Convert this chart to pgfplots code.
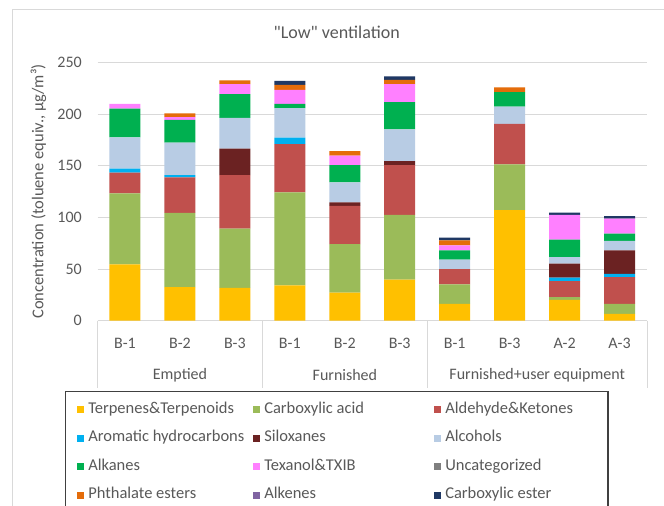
\documentclass[border=0pt]{standalone}
\usepackage{pgfplots}
\usepackage{pgfplotstable}
\pgfplotsset{compat=1.18}
\usepackage{fontspec}
\setmainfont{Carlito}
\newfontfamily\plainfont{Carlito}
\definecolor{cTerp}{HTML}{FFC000}
\definecolor{cCarb}{HTML}{9BBB59}
\definecolor{cAld}{HTML}{C0504D}
\definecolor{cArom}{HTML}{00B0F0}
\definecolor{cSil}{HTML}{6B2222}
\definecolor{cAlc}{HTML}{B8CCE4}
\definecolor{cAlk}{HTML}{00B050}
\definecolor{cTex}{HTML}{FF80FF}
\definecolor{cUnc}{HTML}{7F7F7F}
\definecolor{cPht}{HTML}{E46C0A}
\definecolor{cAlke}{HTML}{8064A2}
\definecolor{cEst}{HTML}{1F3864}
\definecolor{txt}{HTML}{595959}
\definecolor{gridc}{HTML}{D9D9D9}
\definecolor{legc}{HTML}{404040}

\pgfplotstableread{
idx terp carb ald arom sil alc alk tex unc pht alke est
0 54.4 68.7 20.1 3.9 0    30.4 27.9 4.5  0 0   0 0
1 32.4 71.9 34.4 2.2 0    31.4 22.1 2.6  0 3.8 0 0
2 31.7 57.4 51.8 0   25.6 29.8 23.0 9.7  0 3.6 0 0
3 34.0 90.1 46.9 6.2 0    28.5 4.2  13.6 0 4.9 0 3.9
4 26.9 47.0 37.2 0   3.3  19.4 16.8 9.1  0 4.5 0 0
5 39.5 62.8 48.3 0   3.9  30.8 26.2 17.5 0 4.2 0 3.3
6 16.2 18.8 14.9 0   0    9.1  9.0  4.9  0 4.8 0 2.7
7 106.9 44.4 39.2 0  0    16.8 14.0 0    0 4.5 0 0
8 20.1 2.6  15.5 3.3 13.6 6.4  16.9 23.9 0 0   0 2.3
9 6.5  9.7  25.9 3.2 22.7 9.1  7.1  14.6 0 0   0 2.3
}\data

\pgfplotsset{
  S/.style={fill=#1, draw=none,
    legend image code/.code={\fill[#1] (0pt,-3.5pt) rectangle (7pt,3.5pt);}},
}

\begin{document}
\begin{tikzpicture}
\useasboundingbox (0pt,0pt) rectangle (664pt,-506pt);
\begin{scope}[x=1pt,y=-1pt]
\fill[white] (0,0) rectangle (664,506);
\draw[color=gridc, line width=0.8pt] (12.7,9) rectangle (720,560);
\node[font=\plainfont\fontsize{18}{21}\selectfont, text=txt] at (336.7,32.5) {"Low" ventilation};
\end{scope}
\begin{axis}[
  at={(97.5pt,-320.5pt)}, anchor=south west,
  scale only axis, width=549.5pt, height=258pt,
  xmin=-0.5, xmax=9.5, ymin=0, ymax=250,
  ybar stacked, bar width=31pt,
  xtick={0,...,9},
  xticklabels={B-1,B-2,B-3,B-1,B-2,B-3,B-1,B-3,A-2,A-3},
  ytick={0,50,...,250},
  ymajorgrids, grid style={color=gridc, line width=0.8pt},
  axis line style={draw=none}, tick style={draw=none},
  ticklabel style={font=\fontsize{16}{19}\selectfont, text=txt},
  /pgf/number format/assume math mode=true,
  yticklabel style={anchor=east, inner sep=0pt, xshift=-15.5pt},
  xticklabel style={anchor=center, inner sep=0pt, yshift=-22.5pt},
  ylabel={Concentration (toluene equiv., µg/m³)},
  ylabel style={at={(axis description cs:-0.1077,0.5)}, anchor=center,
    font=\fontsize{16.5}{19}\selectfont, text=txt},
  legend columns=3, legend cell align=left,
  legend style={at={(axis description cs:-0.0591,-0.2733)}, anchor=north west,
    draw=legc, line width=1.1pt, fill=white,
    inner xsep=11.7pt, inner ysep=9.5pt, column sep=0pt, row sep=11.5pt,
    font=\fontsize{16.5}{19}\selectfont, text=txt,
    nodes={inner xsep=4pt, inner ysep=1pt, text height=11pt, text depth=4pt}},
]
\addplot[S=cTerp] table[x=idx,y=terp]{\data};
\addlegendentry{\makebox[161pt][l]{Terpenes\&Terpenoids}}
\addplot[S=cCarb] table[x=idx,y=carb]{\data};
\addlegendentry{\makebox[166pt][l]{Carboxylic acid}}
\addplot[S=cAld] table[x=idx,y=ald]{\data};
\addlegendentry{\makebox[147pt][l]{Aldehyde\&Ketones}}
\addplot[S=cArom] table[x=idx,y=arom]{\data};
\addlegendentry{\makebox[161pt][l]{Aromatic hydrocarbons}}
\addplot[S=cSil] table[x=idx,y=sil]{\data};
\addlegendentry{\makebox[166pt][l]{Siloxanes}}
\addplot[S=cAlc] table[x=idx,y=alc]{\data};
\addlegendentry{\makebox[147pt][l]{Alcohols}}
\addplot[S=cAlk] table[x=idx,y=alk]{\data};
\addlegendentry{\makebox[161pt][l]{Alkanes}}
\addplot[S=cTex] table[x=idx,y=tex]{\data};
\addlegendentry{\makebox[166pt][l]{Texanol\&TXIB}}
\addplot[S=cUnc] table[x=idx,y=unc]{\data};
\addlegendentry{\makebox[147pt][l]{Uncategorized}}
\addplot[S=cPht] table[x=idx,y=pht]{\data};
\addlegendentry{\makebox[161pt][l]{Phthalate esters}}
\addplot[S=cAlke] table[x=idx,y=alke]{\data};
\addlegendentry{\makebox[166pt][l]{Alkenes}}
\addplot[S=cEst] table[x=idx,y=est]{\data};
\addlegendentry{\makebox[147pt][l]{Carboxylic ester}}
\end{axis}
\begin{scope}[x=1pt,y=-1pt]
\foreach \xx in {97.5,262.4,427.3,647} {\draw[gridc, line width=0.8pt] (\xx,320.5)--(\xx,388);}
\node[font=\fontsize{16}{19}\selectfont, text=txt] at (180,375) {Emptied};
\node[font=\fontsize{16}{19}\selectfont, text=txt] at (344.9,375) {Furnished};
\node[font=\fontsize{16}{19}\selectfont, text=txt] at (537.2,375) {Furnished+user equipment};
\end{scope}
\end{tikzpicture}
\end{document}
